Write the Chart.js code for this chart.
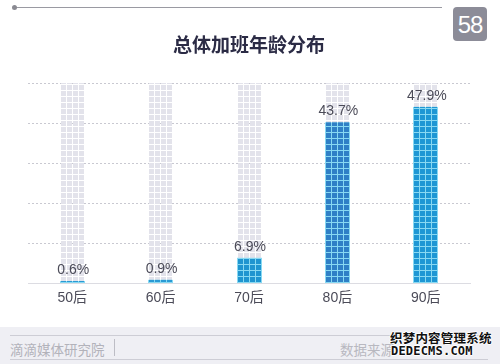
<!DOCTYPE html>
<html>
<head>
<meta charset="utf-8">
<script src="https://cdn.jsdelivr.net/npm/chart.js@4"></script>
<style>
  html, body { margin: 0; padding: 0; background: #fff; }
  #page { position: relative; width: 500px; height: 364px; overflow: hidden; font-family: "Liberation Sans", "Noto Sans CJK SC", sans-serif; }
  #chart { position: absolute; left: 0; top: 0; }
  .topline { position: absolute; left: 15px; top: 7px; width: 427px; height: 1px; background: #9a9aa2; }
  .topdot { position: absolute; left: 12px; top: 5px; width: 5px; height: 5px; border-radius: 50%; background: #8a8a92; }
  .logo { position: absolute; left: 453px; top: 7px; width: 34px; height: 34px; border-radius: 4px; background: #8c8c98;
          color: #fff; font: 300 24px "Liberation Sans", sans-serif; text-align: center; line-height: 35px; letter-spacing: -1px; }
  .title { position: absolute; left: 0; width: 498px; top: 30px; text-align: center; font: bold 19px "Noto Sans CJK SC", sans-serif; color: #2b2b45; }
  .footer { position: absolute; left: 0; top: 327px; width: 500px; height: 37px; background: #efeff4; }
  .footer .band { position: absolute; left: 10px; right: 12px; top: 8px; height: 23px; border-top: 1px solid #cdcdd5; border-bottom: 1px solid #cdcdd5; }
  .footer .org { position: absolute; left: 0; top: 3px; font: 13.5px "Noto Sans CJK SC", sans-serif; color: #b2b2ba; }
  .footer .sep { position: absolute; left: 104px; top: 3px; width: 1px; height: 17px; background: #bdbdc5; }
  .footer .src { position: absolute; left: 330px; top: 3px; font: 13.5px "Noto Sans CJK SC", sans-serif; color: #b8b8c0; }
  .wm1 { position: absolute; left: 390px; top: 328px; font: bold 12.5px "Noto Sans CJK SC", sans-serif; color: #111; letter-spacing: 0.2px;
         text-shadow: 1px 0 #fff, -1px 0 #fff, 0 1px #fff, 0 -1px #fff; }
  .wm2 { position: absolute; left: 391px; top: 344px; font: bold 12px "DejaVu Sans Mono", monospace; color: #111; letter-spacing: 0.2px;
         text-shadow: 1px 0 #fff, -1px 0 #fff, 0 1px #fff, 0 -1px #fff; }
</style>
</head>
<body>
<div id="page">
  <canvas id="chart" width="500" height="364"></canvas>
  <div class="topline"></div>
  <div class="topdot"></div>
  <div class="logo">58</div>
  <div class="title">总体加班年龄分布</div>
  <div class="footer">
    <div class="band">
      <div class="org">滴滴媒体研究院</div>
      <div class="sep"></div>
      <div class="src">数据来源</div>
    </div>
  </div>
  <div class="wm1">织梦内容管理系统</div>
  <div class="wm2">DEDECMS.COM</div>
</div>
<script>
// data
const categories = ['50后', '60后', '70后', '80后', '90后'];
const shares = [0.6, 0.9, 6.9, 43.7, 47.9];
const yMax = 54.4;

// look
const cellBlues = ['#2a9ad4', '#2a9ad4', '#1f95d0', '#2f80c6', '#1e97d4'];
const gapCyan = '#88d9f2';
const trackGray = '#e3e3eb';

// draws a column of little squares between top and base
function drawCells(ctx, left, top, base, fill, gapFill) {
    const cols = 4, size = 5, gap = 1;
    const w = cols * (size + gap) + gap;
    if (base - top < 0.5) return;
    if (gapFill) {
        ctx.fillStyle = gapFill;
        ctx.fillRect(left, top, w, base - top);
    }
    ctx.fillStyle = fill;
    for (let y = base - gap; y > top + 0.3; y -= size + gap) {
        const h = Math.min(size, y - top);
        for (let c = 0; c < cols; c++) {
            ctx.fillRect(left + gap + c * (size + gap), y - h, size, h);
        }
    }
}

const waffle = {
    id: 'waffle',
    afterDatasetsDraw(chart) {
        const ctx = chart.ctx;
        const top = chart.chartArea.top;
        const meta = chart.getDatasetMeta(0);
        ctx.save();
        meta.data.forEach((bar, i) => {
            const left = Math.round(bar.x - bar.width / 2);
            const base = Math.round(bar.base);
            drawCells(ctx, left, top, base, trackGray, null);
            drawCells(ctx, left, bar.y, base, cellBlues[i], gapCyan);

            ctx.fillStyle = '#4b4b58';
            ctx.font = '14px "Liberation Sans", sans-serif';
            ctx.textAlign = 'center';
            ctx.textBaseline = 'bottom';
            ctx.fillText(shares[i].toFixed(1) + '%', bar.x + 1, Math.min(bar.y, base - 2) - 4);
        });
        ctx.restore();
    }
};

new Chart(document.getElementById('chart').getContext('2d'), {
    type: 'bar',
    data: {
        labels: categories,
        datasets: [{
            label: '加班人数占比',
            data: shares,
            backgroundColor: 'rgba(0,0,0,0)',
            borderWidth: 0,
            barThickness: 25
        }]
    },
    options: {
        responsive: false,
        animation: false,
        layout: { padding: { top: 83, left: 28, right: 30, bottom: 50 } },
        plugins: {
            legend: { display: false },
            tooltip: { enabled: false },
            title: { display: false }
        },
        scales: {
            x: {
                grid: { display: false, drawTicks: false },
                border: { display: true, color: '#dcdce2' },
                ticks: {
                    padding: 7,
                    color: '#4b4b58',
                    font: { size: 14, family: '"Liberation Sans", "Noto Sans CJK SC", sans-serif' }
                }
            },
            y: {
                min: 0,
                max: yMax,
                afterBuildTicks(scale) {
                    scale.ticks = [0, 1, 2, 3, 4, 5].map(k => ({ value: yMax * k / 5 }));
                },
                grid: { color: '#c9c9d1', drawTicks: false, lineWidth: 1 },
                border: { display: false, dash: [2, 2] },
                ticks: { display: false }
            }
        }
    },
    plugins: [waffle]
});
</script>
</body>
</html>
